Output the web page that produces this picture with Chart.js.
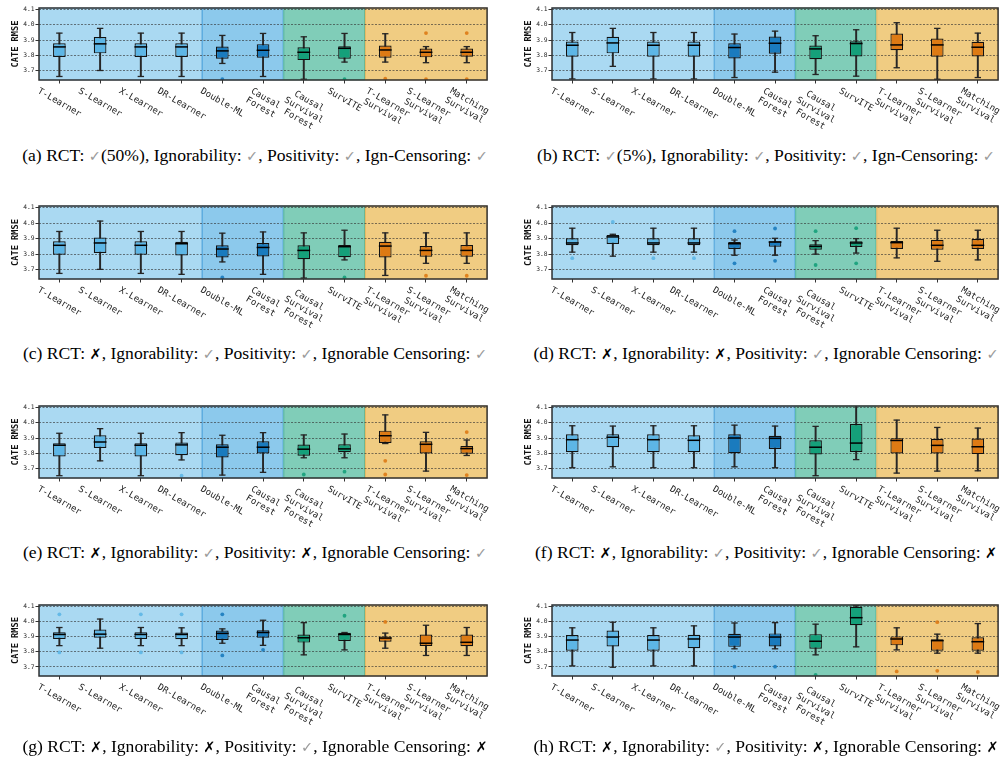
<!DOCTYPE html>
<html><head><meta charset="utf-8">
<script src="https://cdn.jsdelivr.net/npm/chart.js@4.4.1/dist/chart.umd.min.js"></script>
<style>
body{margin:0;background:#fff;width:1006px;height:767px;position:relative;overflow:hidden}
canvas{position:absolute;display:block}
.cap{position:absolute;text-align:center;font-family:'Liberation Serif','Times New Roman',serif;font-size:17.6px;line-height:20px;color:#000;white-space:nowrap}
.ck{color:#9a9a9a;font-family:'DejaVu Sans';font-size:14.5px}
.xx{font-family:'DejaVu Sans';font-weight:bold;font-size:14.5px}
</style></head><body>
<script>
// ---------- categories & ticks ----------
const methods = ['T-Learner','S-Learner','X-Learner','DR-Learner','Double-ML','Causal\nForest',
  'Causal\nSurvival\nForest','SurvITE','T-Learner\nSurvival','S-Learner\nSurvival','Matching\nSurvival'];
const groupOf = [0,0,0,0,1,1,2,2,3,3,3];
const yTicks = [3.7,3.8,3.9,4.0,4.1];

// ---------- (a) ----------
const loA  = [3.663,3.702,3.663,3.663,3.748,3.663,3.645,3.757,3.757,3.753,3.753];
const q1A  = [3.790,3.814,3.790,3.790,3.779,3.786,3.770,3.779,3.786,3.788,3.792];
const medA = [3.856,3.876,3.856,3.856,3.830,3.834,3.821,3.847,3.836,3.821,3.821];
const q3A  = [3.880,3.920,3.880,3.880,3.858,3.874,3.854,3.860,3.865,3.845,3.845];
const hiA  = [3.946,3.977,3.946,3.946,3.931,3.944,3.922,3.944,3.942,3.858,3.858];
const outA = [[4,3.645],[7,3.645],[8,3.649],[9,3.946],[9,3.645],[10,3.946],[10,3.645]];
// ---------- (b) ----------
const loB  = [3.647,3.729,3.647,3.647,3.656,3.691,3.676,3.665,3.720,3.645,3.656];
const q1B  = [3.792,3.814,3.792,3.792,3.781,3.812,3.775,3.794,3.834,3.792,3.794];
const medB = [3.867,3.882,3.867,3.867,3.852,3.880,3.843,3.878,3.869,3.869,3.854];
const q3B  = [3.891,3.922,3.891,3.891,3.880,3.924,3.865,3.893,3.944,3.911,3.889];
const hiB  = [3.950,3.977,3.950,3.950,3.940,3.959,3.929,3.968,4.014,3.977,3.946];
const outB = [];
// ---------- (c) ----------
const loC  = [3.676,3.702,3.676,3.670,3.750,3.670,3.646,3.763,3.663,3.741,3.741];
const q1C  = [3.796,3.807,3.796,3.791,3.778,3.785,3.767,3.780,3.778,3.783,3.783];
const medC = [3.857,3.872,3.857,3.867,3.833,3.843,3.824,3.848,3.852,3.824,3.824];
const q3C  = [3.883,3.907,3.883,3.880,3.857,3.872,3.857,3.859,3.880,3.852,3.859];
const hiC  = [3.946,4.013,3.946,3.946,3.935,3.943,3.937,3.954,3.937,3.937,3.937];
const outC = [[4,3.650],[7,3.650],[9,3.661],[10,3.661]];
// ---------- (d) ----------
const loD  = [3.813,3.787,3.813,3.813,3.793,3.793,3.800,3.807,3.776,3.754,3.763];
const q1D  = [3.857,3.865,3.857,3.857,3.833,3.848,3.828,3.846,3.833,3.828,3.833];
const medD = [3.872,3.911,3.872,3.872,3.867,3.878,3.850,3.872,3.874,3.857,3.857];
const q3D  = [3.902,3.924,3.902,3.902,3.878,3.883,3.863,3.883,3.885,3.893,3.898];
const hiD  = [3.967,3.928,3.967,3.967,3.891,3.902,3.887,3.900,3.967,3.954,3.954];
const outD = [[0,3.774],[1,4.007],[2,3.774],[3,3.774],[4,3.948],[4,3.741],[5,3.965],[5,3.757],[6,3.948],[6,3.730],[7,3.967],[7,3.741]];
// ---------- (e) ----------
const loE  = [3.655,3.752,3.655,3.758,3.659,3.677,3.772,3.772,3.865,3.685,3.787];
const q1E  = [3.780,3.836,3.780,3.789,3.774,3.800,3.785,3.808,3.869,3.800,3.798];
const medE = [3.854,3.875,3.854,3.856,3.841,3.841,3.828,3.830,3.916,3.860,3.832];
const q3E  = [3.867,3.919,3.867,3.871,3.860,3.880,3.858,3.860,3.949,3.880,3.849];
const hiE  = [3.932,3.962,3.932,3.936,3.919,3.936,3.921,3.927,4.052,3.938,3.888];
const outE = [[3,3.655],[6,3.663],[7,3.681],[8,3.752],[8,3.663],[10,3.940],[10,3.659]];
// ---------- (f) ----------
const loF  = [3.707,3.713,3.707,3.707,3.713,3.707,3.655,3.760,3.672,3.685,3.687];
const q1F  = [3.808,3.841,3.808,3.808,3.802,3.830,3.793,3.810,3.800,3.800,3.796];
const medF = [3.890,3.906,3.890,3.886,3.901,3.899,3.841,3.868,3.885,3.853,3.844];
const q3F  = [3.925,3.925,3.925,3.919,3.925,3.916,3.886,3.992,3.900,3.894,3.898];
const hiF  = [3.981,3.979,3.981,3.981,3.985,3.979,3.977,4.150,4.018,3.970,3.966];
const outF = [];
// ---------- (g) ----------
const loG  = [3.841,3.824,3.841,3.841,3.857,3.843,3.780,3.813,3.824,3.776,3.776];
const q1G  = [3.885,3.893,3.885,3.883,3.878,3.893,3.861,3.872,3.867,3.839,3.837];
const medG = [3.915,3.917,3.915,3.915,3.922,3.928,3.893,3.915,3.891,3.857,3.863];
const q3G  = [3.930,3.948,3.930,3.928,3.941,3.943,3.915,3.926,3.902,3.915,3.915];
const hiG  = [3.961,4.017,3.961,3.959,3.952,4.009,3.993,3.928,3.924,3.976,3.961];
const outG = [[0,4.048],[0,3.796],[2,4.048],[2,3.796],[3,4.048],[3,3.796],[4,4.048],[4,3.776],[5,3.813],[7,4.039],[8,3.998]];
// ---------- (h) ----------
const loH  = [3.707,3.698,3.707,3.707,3.820,3.820,3.780,3.833,3.813,3.791,3.791];
const q1H  = [3.807,3.835,3.807,3.824,3.833,3.835,3.820,3.976,3.843,3.807,3.807];
const medH = [3.878,3.898,3.878,3.885,3.898,3.898,3.870,4.026,3.885,3.874,3.867];
const q3H  = [3.911,3.941,3.911,3.913,3.920,3.922,3.917,4.098,3.902,3.883,3.896];
const hiH  = [3.959,3.996,3.959,3.972,3.991,3.993,3.983,4.106,3.959,3.917,3.987];
const outH = [[4,3.702],[5,3.702],[6,3.648],[8,3.670],[9,3.996],[9,3.674],[10,3.667]];

const captions = [
  '(a) RCT: ✓(50%), Ignorability: ✓, Positivity: ✓, Ign-Censoring: ✓',
  '(b) RCT: ✓(5%), Ignorability: ✓, Positivity: ✓, Ign-Censoring: ✓',
  '(c) RCT: ✗, Ignorability: ✓, Positivity: ✓, Ignorable Censoring: ✓',
  '(d) RCT: ✗, Ignorability: ✗, Positivity: ✓, Ignorable Censoring: ✓',
  '(e) RCT: ✗, Ignorability: ✓, Positivity: ✗, Ignorable Censoring: ✓',
  '(f) RCT: ✗, Ignorability: ✓, Positivity: ✓, Ignorable Censoring: ✗',
  '(g) RCT: ✗, Ignorability: ✗, Positivity: ✓, Ignorable Censoring: ✗',
  '(h) RCT: ✗, Ignorability: ✓, Positivity: ✗, Ignorable Censoring: ✗'
];

// ---------- styling ----------
const boxColors  = ['#5DB6E6','#1A7BBE','#15A07A','#DD7A14'];
const bandColors = ['#AAD9F2','#8CC9EC','#80CDB8','#F0CC82'];
const bandEdges  = ['rgba(90,170,220,0.6)','rgba(40,140,210,0.6)','rgba(20,150,120,0.6)','rgba(220,160,60,0.6)'];
const flierColors = ['rgba(93,182,230,0.9)','rgba(26,123,190,0.9)','rgba(21,160,122,0.9)','rgba(221,122,20,0.9)'];
const yMin = 3.64, yMax = 4.11;
const methodKeys = methods.map(m => m.replace(/\n/g,' '));

const panels = [
  [loA,q1A,medA,q3A,hiA,outA],[loB,q1B,medB,q3B,hiB,outB],
  [loC,q1C,medC,q3C,hiC,outC],[loD,q1D,medD,q3D,hiD,outD],
  [loE,q1E,medE,q3E,hiE,outE],[loF,q1F,medF,q3F,hiF,outF],
  [loG,q1G,medG,q3G,hiG,outG],[loH,q1H,medH,q3H,hiH,outH]
];
const rowTop = [8,206,406,605], rowH = [72,73,72,71];
const colLeft = [39,552], colW = [454,452];
const capCenter = [155,353,551.5,746];
const capBox = [[0,510],[513,506]];

const bandPlugin = {
  id:'bands',
  beforeDraw(chart){
    const {ctx, chartArea:a, scales:{x}} = chart;
    const step = x.getPixelForValue(1) - x.getPixelForValue(0);
    ctx.save();
    for (let g=0; g<4; g++){
      const idx = groupOf.map((v,i)=>v===g?i:-1).filter(i=>i>=0);
      const x0 = Math.max(a.left, x.getPixelForValue(idx[0]) - step/2);
      const x1 = Math.min(a.right, x.getPixelForValue(idx[idx.length-1]) + step/2);
      ctx.fillStyle = bandColors[g];
      ctx.fillRect(x0, a.top, x1-x0, a.bottom-a.top);
      ctx.strokeStyle = bandEdges[g]; ctx.lineWidth = 0.8;
      ctx.strokeRect(x0+0.4, a.top, x1-x0-0.8, a.bottom-a.top);
    }
    ctx.restore();
  }
};
const labelPlugin = {
  id:'xlabels',
  afterDraw(chart){
    const {ctx, chartArea:a, scales:{x}} = chart;
    ctx.save();
    ctx.strokeStyle = '#333'; ctx.lineWidth = 1.5;
    ctx.strokeRect(a.left, a.top, a.right-a.left, a.bottom-a.top);
    ctx.font = '9px "DejaVu Sans Mono"';
    ctx.fillStyle = '#222'; ctx.textAlign = 'center'; ctx.textBaseline = 'middle';
    const th = 30*Math.PI/180, lh = 10.4;
    methods.forEach((m,i)=>{
      const lines = m.split('\n');
      const W = Math.max(...lines.map(l=>ctx.measureText(l).width));
      const H = lines.length*lh;
      const bh = W*Math.sin(th) + H*Math.cos(th);
      const cx = x.getPixelForValue(i), cy = a.bottom + 6 + bh/2;
      ctx.save(); ctx.translate(cx, cy); ctx.rotate(th);
      lines.forEach((l,k)=>ctx.fillText(l, 0, (k-(lines.length-1)/2)*lh));
      ctx.restore();
    });
    ctx.restore();
  }
};

function capHTML(s){
  return s.replace(/✓/g,'<span class="ck">✓</span>').replace(/✗/g,'<span class="xx">✗</span>');
}

panels.forEach((p, k) => {
  const [lo,q1,med,q3,hi,out] = p;
  const row = Math.floor(k/2), col = k%2;
  const cv = document.createElement('canvas');
  const W = 39 + colW[col] + 2, H = 8 + rowH[row] + 62;
  cv.width = W; cv.height = H;
  cv.style.left = (colLeft[col]-39)+'px'; cv.style.top = (rowTop[row]-8)+'px';
  cv.style.width = W+'px'; cv.style.height = H+'px';
  document.body.appendChild(cv);

  const cap = document.createElement('div');
  cap.className = 'cap';
  cap.style.left = capBox[col][0]+'px'; cap.style.width = capBox[col][1]+'px';
  cap.style.top = (capCenter[row]-10)+'px';
  cap.innerHTML = capHTML(captions[k]);
  document.body.appendChild(cap);

  const cols = groupOf.map(g=>boxColors[g]);
  new Chart(cv, {
    type:'bar',
    data:{
      labels: methodKeys,
      datasets:[
        {type:'bar', data: lo.map((v,i)=>[v,hi[i]]), backgroundColor:'#262626', borderWidth:0,
          barThickness:1.3, grouped:false, order:5, clip:0},
        {type:'bar', data: q1.map((v,i)=>[v,q3[i]]), backgroundColor: cols, borderColor:'#111',
          borderWidth:1.2, borderSkipped:false, categoryPercentage:1, barPercentage:0.31, grouped:false, order:4, clip:0},
        {type:'line', showLine:false, data: lo.flatMap((v,i)=>[{x:methodKeys[i],y:v},{x:methodKeys[i],y:hi[i]}]),
          pointStyle:'line', pointRadius:3.2, pointBorderWidth:1.3, pointBorderColor:'#262626', pointBackgroundColor:'#262626', order:3, clip:0},
        {type:'line', showLine:false, data: med.map((v,i)=>({x:methodKeys[i],y:v})),
          pointStyle:'line', pointRadius:6.4, pointBorderWidth:1.5, pointBorderColor:'#000', order:2, clip:0},
        {type:'line', showLine:false, data: out.map(o=>({x:methodKeys[o[0]],y:o[1]})),
          pointStyle:'circle', pointRadius:1.9, pointBorderWidth:0,
          pointBackgroundColor: out.map(o=>flierColors[groupOf[o[0]]]), order:1, clip:0}
      ]
    },
    options:{
      responsive:false, animation:false, devicePixelRatio:1,
      layout:{padding:{top:8,right:2,left:0,bottom:0}},
      plugins:{legend:{display:false}, tooltip:{enabled:false}},
      scales:{
        x:{type:'category', offset:true, ticks:{display:false},
           grid:{display:true, offset:false, drawOnChartArea:false, drawTicks:true, tickLength:3.5, tickColor:'#333', tickWidth:1},
           border:{display:false}, afterFit:s=>{s.height=62;}},
        y:{min:yMin, max:yMax,
           afterBuildTicks:s=>{s.ticks = yTicks.map(v=>({value:v}));},
           ticks:{callback:v=>Number(v).toFixed(1), font:{family:'DejaVu Sans Mono', size:6.3}, color:'#222', padding:1},
           grid:{color:'rgba(50,50,50,0.8)', lineWidth:0.8, tickLength:3.5, tickColor:'#333', tickWidth:1, tickBorderDash:[]},
           border:{display:false, dash:[2,1.5]},
           title:{display:true, text:'CATE RMSE', font:{family:'DejaVu Sans Mono', weight:'bold', size:8.7}, color:'#111', padding:{top:11,bottom:0}},
           afterFit:s=>{s.width=39;}}
      }
    },
    plugins:[bandPlugin, labelPlugin]
  });
});
</script>
</body></html>
